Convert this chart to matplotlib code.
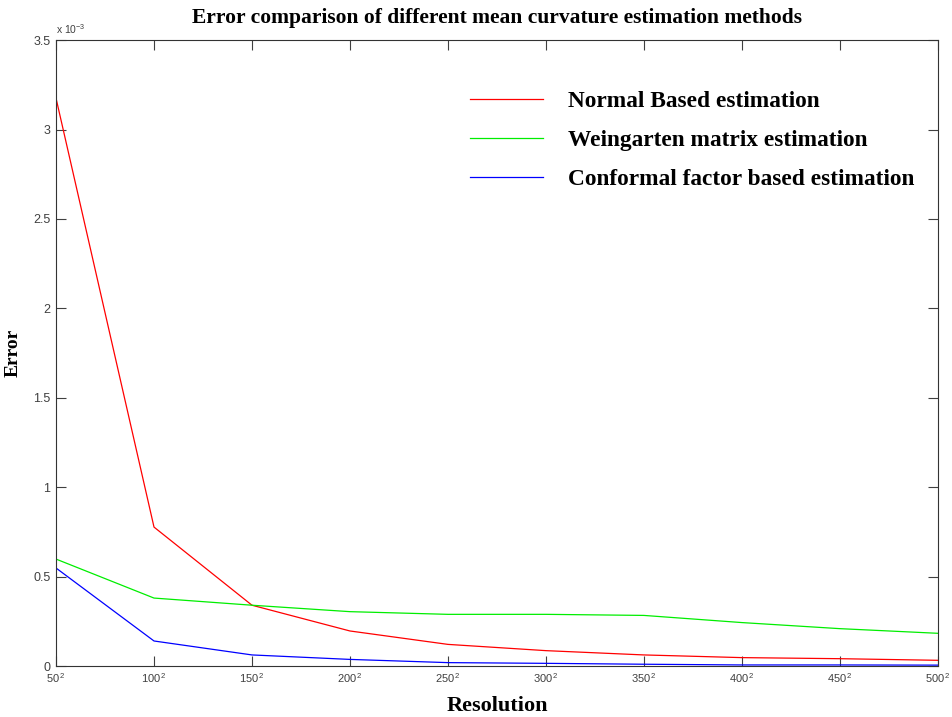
import matplotlib
matplotlib.use("Agg")
import matplotlib.pyplot as plt

resolution = [50, 100, 150, 200, 250, 300, 350, 400, 450, 500]
x_labels = [r"$\mathregular{%d^{\,2}}$" % r for r in resolution]
# errors in units of 1e-3
normal_based = [3.175, 0.777, 0.34, 0.196, 0.121, 0.086, 0.062, 0.047, 0.041, 0.032]
weingarten = [0.598, 0.38, 0.34, 0.304, 0.289, 0.289, 0.283, 0.243, 0.209, 0.183]
conformal = [0.548, 0.14, 0.062, 0.037, 0.019, 0.015, 0.010, 0.006, 0.006, 0.005]
y_ticks = [0, 0.5, 1, 1.5, 2, 2.5, 3, 3.5]
labels = ["Normal Based estimation", "Weingarten matrix estimation",
          "Conformal factor based estimation"]

plt.rcParams["font.family"] = ["Liberation Sans", "DejaVu Sans"]
plt.rcParams["mathtext.fontset"] = "custom"
plt.rcParams["mathtext.rm"] = "Liberation Sans"

fig = plt.figure(figsize=(9.53, 7.17), dpi=100)
ax = fig.add_axes([0.0588, 0.0711, 0.9252, 0.8729])

ax.plot(resolution, normal_based, color="#ff0000", lw=0.9, label=labels[0])
ax.plot(resolution, weingarten, color="#00ee00", lw=0.9, label=labels[1])
ax.plot(resolution, conformal, color="#0000ff", lw=0.9, label=labels[2])

ax.set_xlim(50, 500)
ax.set_ylim(0, 3.5)
ax.set_xticks(resolution)
ax.set_xticklabels(x_labels)
ax.set_yticks(y_ticks)
ax.set_yticklabels(["%g" % v for v in y_ticks])
ax.tick_params(direction="in", length=7, width=0.8, colors="#404040",
               top=True, right=True)
ax.tick_params(axis="x", labelsize=8, pad=4)
ax.tick_params(axis="y", labelsize=9, pad=4)
for s in ax.spines.values():
    s.set_color("#333333")
    s.set_linewidth(0.8)

ax.text(0.0, 1.006, r"x 10$^{-3}$", transform=ax.transAxes, fontsize=7.5,
        color="#404040", ha="left", va="bottom")

serif = "Liberation Serif"
ax.set_title("Error comparison of different mean curvature estimation methods",
             fontsize=15.5, fontweight="bold", family=serif, pad=12)
ax.set_xlabel("Resolution", fontsize=16, fontweight="bold", family=serif, labelpad=8)
ax.set_ylabel("Error", fontsize=14, fontweight="bold", family=serif, labelpad=8)

leg = ax.legend(loc="upper right", bbox_to_anchor=(0.973, 0.919), frameon=False,
                prop={"family": serif, "weight": "bold", "size": 16.8},
                handlelength=3.15, handletextpad=1.05, labelspacing=0.76,
                borderaxespad=0, borderpad=0)

fig.savefig("out.png", dpi=100)
